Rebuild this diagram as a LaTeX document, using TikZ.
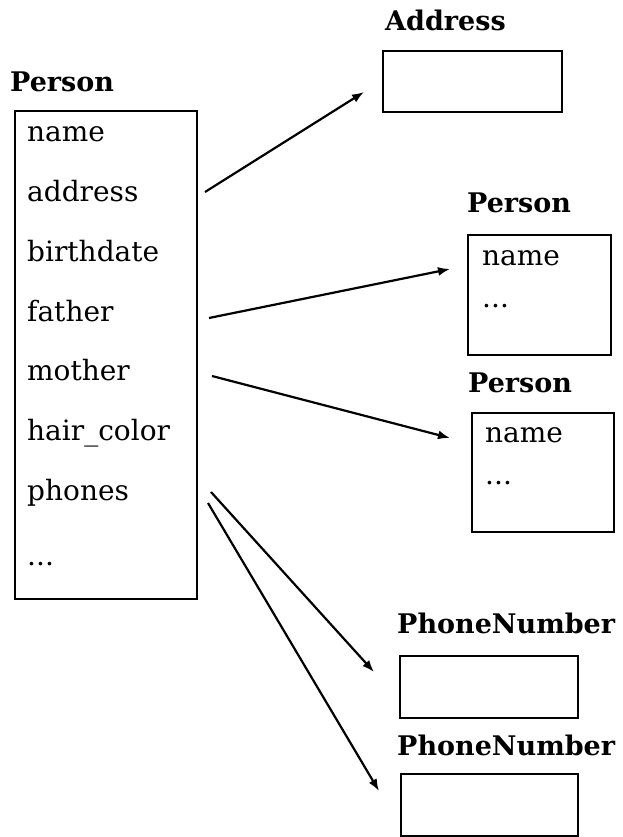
\documentclass[tikz,border=0pt]{standalone}
\usepackage{fontspec}
\setmainfont{DejaVu Serif}
\usetikzlibrary{arrows.meta}

\begin{document}
\begin{tikzpicture}[x=1pt,y=-1pt,
  box/.style={draw, line width=2.2pt, inner sep=0pt, anchor=north west},
  title/.style={anchor=base west, inner sep=0pt, font=\fontsize{27}{30}\selectfont\bfseries},
  item/.style={anchor=base west, inner sep=0pt, font=\fontsize{28}{32}\selectfont},
  link/.style={line width=2.2pt, -{Latex[length=12pt,width=9pt]}}]
\useasboundingbox (0,0) rectangle (622,837);

% main record
\node[title] (tPerson) at (10,92) {Person};
\node[box, minimum width=182pt, minimum height=488pt] (main) at (14,110) {};
\foreach \lbl/\txt [count=\i from 0] in {fName/name,fAddress/address,fBirth/birthdate,fFather/father,fMother/mother,fHair/hair\_color,fPhones/phones}
  \node[item] (\lbl) at (27,{142+59.7*\i}) {\txt};
\node[item] (fMore) at (27,565) {...};

% Address
\node[title] (tAddress) at (385,31) {Address};
\node[box, minimum width=179pt, minimum height=61pt] (address) at (382,50) {};

% father
\node[title] (tFather) at (467,212) {Person};
\node[box, minimum width=143pt, minimum height=120pt] (fatherBox) at (467,234) {};
\node[item] (fatherName) at (482,265) {name};
\node[item] (fatherMore) at (482,307) {...};

% mother
\node[title] (tMother) at (468,392) {Person};
\node[box, minimum width=142pt, minimum height=119pt] (motherBox) at (471,412) {};
\node[item] (motherName) at (485,442) {name};
\node[item] (motherMore) at (485,484) {...};

% phone numbers
\node[title] (tPhoneA) at (397,633) {PhoneNumber};
\node[box, minimum width=178pt, minimum height=62pt] (phoneA) at (399,655) {};
\node[title] (tPhoneB) at (397,755) {PhoneNumber};
\node[box, minimum width=177pt, minimum height=62pt] (phoneB) at (400,773) {};

% connector ends
\coordinate (sAddr) at (205,192);
\coordinate (eAddr) at (364,92);
\coordinate (sFather) at (209,318);
\coordinate (eFather) at (450,269);
\coordinate (sMother) at (212,376);
\coordinate (eMother) at (450,438);
\coordinate (sPhoneA) at (211,492);
\coordinate (ePhoneA) at (374,672);
\coordinate (sPhoneB) at (208,503);
\coordinate (ePhoneB) at (379,791);

\draw[link] (sAddr) -- (eAddr);
\draw[link] (sFather) -- (eFather);
\draw[link] (sMother) -- (eMother);
\draw[link] (sPhoneA) -- (ePhoneA);
\draw[link] (sPhoneB) -- (ePhoneB);
\end{tikzpicture}
\end{document}
